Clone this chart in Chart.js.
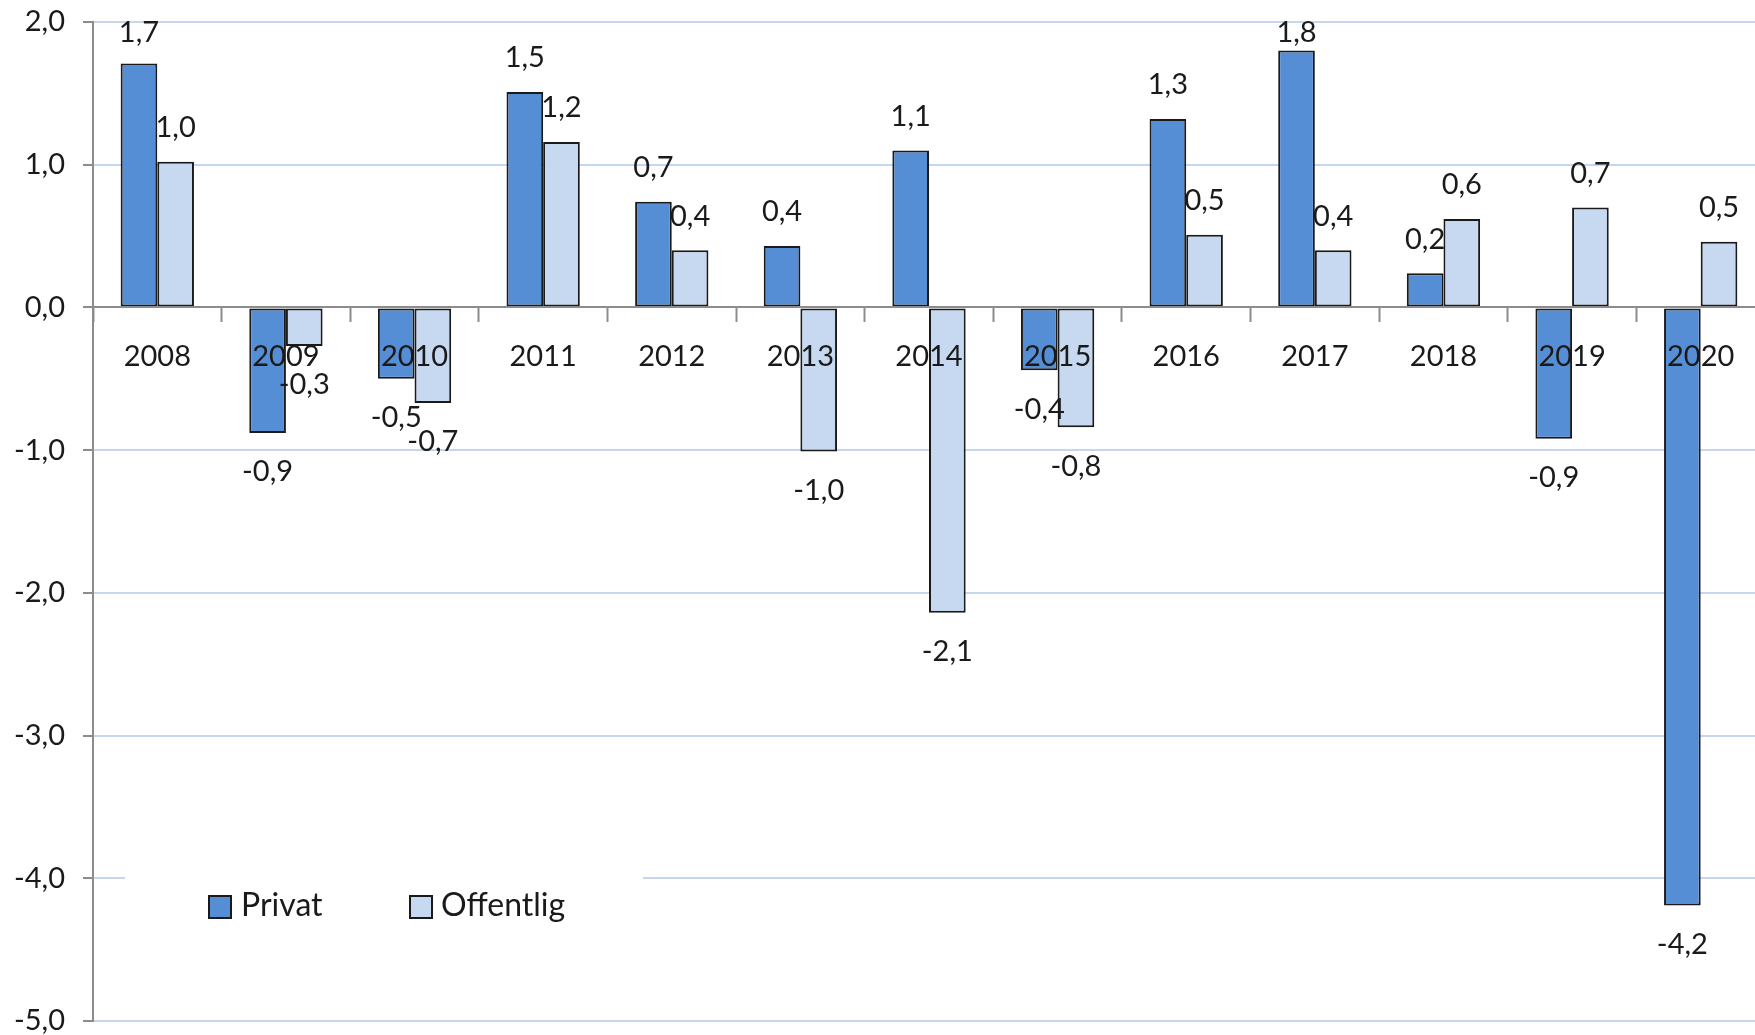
<!DOCTYPE html>
<html>
<head>
<meta charset="utf-8">
<script src="https://cdn.jsdelivr.net/npm/chart.js@4"></script>
<style>
  html, body { margin: 0; padding: 0; background: #ffffff; overflow: hidden; }
  #wrap { width: 1766px; height: 1035px; }
</style>
</head>
<body>
<div id="wrap"><canvas id="c" width="1766" height="1035"></canvas></div>
<script>
const categories = ['2008','2009','2010','2011','2012','2013','2014','2015','2016','2017','2018','2019','2020'];
const privat    = [1.71, -0.88, -0.50, 1.51, 0.74, 0.43, 1.10, -0.44, 1.32, 1.80, 0.24, -0.92, -4.19];
const offentlig = [1.02, -0.27, -0.67, 1.16, 0.40, -1.01, -2.14, -0.84, 0.51, 0.40, 0.62, 0.70, 0.46];
const seriesNames = ['Privat', 'Offentlig'];
const yMin = -5, yMax = 2, yStep = 1;

const FONT = 'Lato, "Open Sans", sans-serif';
const TEXT = '#1a1a1a';
const AXIS = '#8c8c8c';
const GRID = '#c5d7ee';
const fmt = v => Number(v).toFixed(1).replace('.', ',');

const dataLabels = {
  id: 'dataLabels',
  afterDatasetsDraw(chart) {
    const ctx = chart.ctx;
    const top = chart.chartArea.top;
    ctx.save();
    ctx.font = '29px ' + FONT;
    ctx.fillStyle = TEXT;
    ctx.textAlign = 'center';
    ctx.textBaseline = 'middle';
    chart.data.datasets.forEach((ds, di) => {
      const meta = chart.getDatasetMeta(di);
      meta.data.forEach((el, i) => {
        const v = ds.data[i];
        const y = v >= 0 ? Math.max(el.y - 34, top + 11) : el.y + 39;
        ctx.fillText(fmt(v), el.x, y);
      });
    });
    ctx.restore();
  }
};

const innerLegend = {
  id: 'innerLegend',
  afterDraw(chart) {
    const ctx = chart.ctx;
    ctx.save();
    ctx.fillStyle = '#ffffff';
    ctx.fillRect(125, 862, 518, 80);
    const items = [{mx: 209, tx: 241}, {mx: 410, tx: 441}];
    ctx.font = '32px ' + FONT;
    ctx.textBaseline = 'middle';
    ctx.textAlign = 'left';
    chart.data.datasets.forEach((ds, i) => {
      const it = items[i];
      ctx.fillStyle = ds.backgroundColor;
      ctx.fillRect(it.mx, 896, 22, 22);
      ctx.lineWidth = 2;
      ctx.strokeStyle = TEXT;
      ctx.strokeRect(it.mx, 896, 22, 22);
      ctx.fillStyle = TEXT;
      ctx.fillText(ds.label, it.tx, 906);
    });
    ctx.restore();
  }
};

new Chart(document.getElementById('c'), {
  type: 'bar',
  data: {
    labels: categories,
    datasets: [
      { label: seriesNames[0], data: privat, backgroundColor: '#558ed5', borderColor: TEXT, borderWidth: 2, borderSkipped: false },
      { label: seriesNames[1], data: offentlig, backgroundColor: '#c6d9f1', borderColor: TEXT, borderWidth: 2, borderSkipped: false }
    ]
  },
  options: {
    responsive: false,
    animation: false,
    devicePixelRatio: 1,
    layout: { padding: { top: 22, bottom: 14, left: 0, right: 1 } },
    plugins: { legend: { display: false }, tooltip: { enabled: false } },
    datasets: { bar: { categoryPercentage: 0.57, barPercentage: 1.0 } },
    scales: {
      x: {
        position: { y: 0 },
        offset: true,
        grid: { offset: true, drawOnChartArea: false, drawTicks: true, tickLength: 14, tickColor: AXIS, tickWidth: 2, color: AXIS, z: 1 },
        border: { display: true, color: AXIS, width: 2, z: 1 },
        ticks: { color: TEXT, font: { family: FONT, size: 29 }, padding: 18, maxRotation: 0, autoSkip: false, z: 2 },
        afterFit(s) { s.height = 0; s.paddingLeft = 0; s.paddingRight = 0; s.paddingTop = 0; s.paddingBottom = 0; }
      },
      y: {
        min: yMin, max: yMax,
        ticks: { stepSize: yStep, color: TEXT, font: { family: FONT, size: 29 }, padding: 18, callback: v => fmt(v) },
        grid: {
          color: c => (c.tick && c.tick.value === 0) ? 'rgba(0,0,0,0)' : GRID,
          lineWidth: 2,
          tickColor: AXIS, tickLength: 10, tickWidth: 2
        },
        border: { display: true, color: AXIS, width: 2 },
        afterFit(s) { s.width = 93; s.paddingTop = 0; s.paddingBottom = 0; }
      }
    }
  },
  plugins: [dataLabels, innerLegend]
});
</script>
</body>
</html>
